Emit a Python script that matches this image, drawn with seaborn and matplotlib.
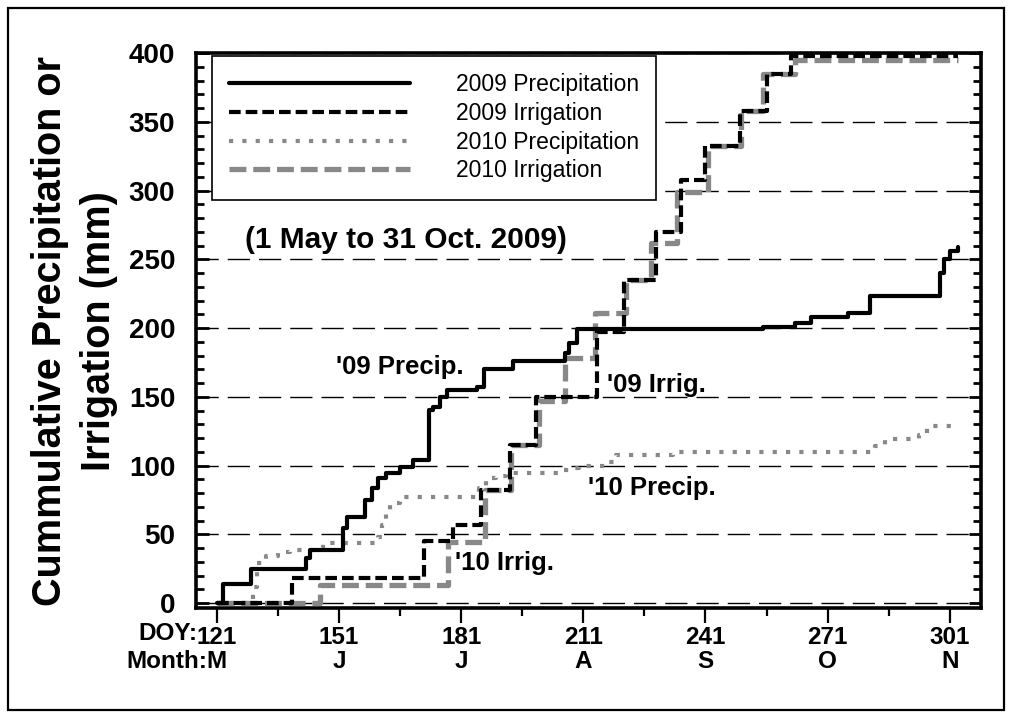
import numpy as np
import pandas as pd
import matplotlib
matplotlib.use("Agg")
import matplotlib.pyplot as plt
import matplotlib.transforms as mtransforms
from matplotlib.patches import Rectangle
from matplotlib.ticker import MultipleLocator, FixedLocator
import seaborn as sns

# ---------------- data ----------------
precip09_doy = [121, 122.5, 129.5, 143, 144, 152, 153, 157.5, 159, 160.5, 162.5, 166, 169.3, 173,
                174.2, 175.8, 177.5, 184.8, 186.5, 193.8, 206.5, 207.5, 209.5, 255, 263, 267, 276,
                281.5, 298.5, 299.5, 301, 303]
precip09_mm = [0, 14, 25, 33, 39, 55, 63, 75, 84, 91, 94.5, 99.3, 104, 140.5,
               143, 150, 155, 157.5, 170, 176, 182, 189, 199, 201, 203.6, 208.4, 211.3,
               223, 240, 250, 256, 259]

irrig09_doy = [121, 139.5, 172, 179, 186, 193, 199.5, 214.3, 221, 228.8, 235, 241, 249.5, 256.2, 262, 303]
irrig09_mm = [0, 18, 45, 57, 82.3, 115, 150, 197, 235, 270, 308, 332.5, 357.5, 385, 398, 398]

precip10_doy = [121, 130, 131, 133, 136, 139, 145, 147, 160.5, 161.5, 162.5, 163.5, 166, 185.5, 187,
                189.5, 192, 206, 208, 210, 216.5, 219, 233, 282.5, 285, 293.5, 295.5, 302]
precip10_mm = [0, 12, 29, 34, 37, 39, 40, 44, 48, 57, 65, 73, 77.5, 83.5, 90.8,
               92.5, 95, 96.5, 98, 100, 103, 107.8, 110, 114.3, 119.2, 122.3, 129, 129]

irrig10_doy = [121, 146.4, 177.8, 186.8, 193.3, 200, 206.5, 213.8, 221.5, 227.5, 234, 241.5, 249.8, 255, 263, 303]
irrig10_mm = [0, 13.2, 44.7, 82.3, 115, 147, 178, 211, 235, 262, 299, 332.5, 357.5, 385, 395, 395]

series_names = ["2009 Precipitation", "2009 Irrigation", "2010 Precipitation", "2010 Irrigation"]

doy_ticks = [121, 151, 181, 211, 241, 271, 301]
month_labels = ["M", "J", "J", "A", "S", "O", "N"]
y_ticks = [0, 50, 100, 150, 200, 250, 300, 350, 400]

# ---------------- style ----------------
sns.set_theme(style="white")
plt.rcParams["font.family"] = ["Liberation Sans", "DejaVu Sans"]
plt.rcParams["font.weight"] = "bold"
plt.rcParams["text.color"] = "black"
plt.rcParams["axes.labelcolor"] = "black"
plt.rcParams["xtick.color"] = "black"
plt.rcParams["ytick.color"] = "black"

fig = plt.figure(figsize=(10.11, 7.15), dpi=100)
ax = fig.add_axes([196 / 1011, (715 - 608.3) / 715, 785 / 1011, 555.3 / 715])

gray = "#888888"
styles = {
    "2009 Precipitation": dict(color="black", lw=3.0, ls="-", z=5),
    "2009 Irrigation": dict(color="black", lw=3.0, ls=(0, (2.8, 1.2)), z=4),
    "2010 Precipitation": dict(color=gray, lw=3.0, ls=(0, (1.0, 2.2)), z=2),
    "2010 Irrigation": dict(color=gray, lw=3.8, ls=(0, (3.2, 1.3)), z=3),
}
data_pairs = {
    "2009 Precipitation": (precip09_doy, precip09_mm),
    "2009 Irrigation": (irrig09_doy, irrig09_mm),
    "2010 Precipitation": (precip10_doy, precip10_mm),
    "2010 Irrigation": (irrig10_doy, irrig10_mm),
}

for name in series_names:
    d, v = data_pairs[name]
    df = pd.DataFrame({"DOY": d, "mm": v})
    st = styles[name]
    sns.lineplot(data=df, x="DOY", y="mm", ax=ax, estimator=None, sort=False,
                 color=st["color"], linewidth=st["lw"], linestyle=st["ls"],
                 drawstyle="steps-post", label=name, zorder=st["z"], legend=False)

ax.set_xlim(115.9, 308.65)
ax.set_ylim(-3.7, 400)

# grid / ticks
ax.yaxis.set_major_locator(MultipleLocator(50))
ax.yaxis.set_minor_locator(MultipleLocator(10))
ax.xaxis.set_major_locator(FixedLocator(doy_ticks))
ax.xaxis.set_minor_locator(FixedLocator([136, 166, 196, 226, 256, 286]))
ax.grid(False)
ax.yaxis.grid(True, which="major", color="black", linewidth=1.0, linestyle=(0, (16, 6.5)), zorder=0)
ax.set_axisbelow(True)

for sp in ax.spines.values():
    sp.set_linewidth(2.6)
    sp.set_color("black")
    sp.set_visible(True)

ax.tick_params(axis="y", which="both", direction="in", left=True, right=True,
               width=2.0, colors="black", labelsize=20, pad=15)
ax.tick_params(axis="y", which="major", length=9)
ax.tick_params(axis="y", which="minor", length=6)
ax.tick_params(axis="x", which="both", direction="out", bottom=True, top=False,
               width=1.6, colors="black")
ax.tick_params(axis="x", which="major", length=11, pad=2)
ax.tick_params(axis="x", which="minor", length=6)

ax.set_yticks(y_ticks)
ax.set_yticklabels([str(v) for v in y_ticks], fontsize=20, fontweight="bold", color="black")
ax.set_xticks(doy_ticks)
ax.set_xticklabels([str(d) for d in doy_ticks], fontsize=17.5, fontweight="bold", color="black")

trans = mtransforms.blended_transform_factory(ax.transData, ax.transAxes)
for d, m in zip(doy_ticks, month_labels):
    ax.text(d, -0.095, m, transform=trans, ha="center", va="center", fontsize=17.5,
            fontweight="bold", color="black")
fig.text(197 / 1011, (715 - 633) / 715, "DOY:", ha="right", va="center", fontsize=17.5,
         fontweight="bold", color="black")
fig.text(207 / 1011, (715 - 661) / 715, "Month:", ha="right", va="center", fontsize=17.5,
         fontweight="bold", color="black")

ax.set_xlabel("")
ax.set_ylabel("Cummulative Precipitation or\nIrrigation (mm)", fontsize=28.5,
              fontweight="bold", linespacing=1.36, color="black")
ax.yaxis.set_label_coords(-0.1, 0.5)

# annotations
ax.text(167.5, 264, "(1 May to 31 Oct. 2009)", ha="center", va="center", fontsize=21.5,
        fontweight="bold", color="black")
ax.text(150.3, 171.8, "'09 Precip.", ha="left", va="center", fontsize=18.5, fontweight="bold", color="black")
ax.text(216.8, 158.7, "'09 Irrig.", ha="left", va="center", fontsize=18.5, fontweight="bold", color="black")
ax.text(212.2, 83.8, "'10 Precip.", ha="left", va="center", fontsize=18.5, fontweight="bold", color="black")
ax.text(179.5, 29.2, "'10 Irrig.", ha="left", va="center", fontsize=18.5, fontweight="bold", color="black")

leg = ax.legend(loc="upper left", bbox_to_anchor=(16 / 785, (555.3 - 3) / 555.3),
                frameon=True, fancybox=False, edgecolor="black", framealpha=1,
                prop={"size": 16.5, "weight": "normal"}, handlelength=7.9,
                handletextpad=2.0, borderpad=0.75, labelspacing=0.25, borderaxespad=0)
leg.get_frame().set_linewidth(1.2)
for t in leg.get_texts():
    t.set_color("black")

# outer frame
fig.patches.append(Rectangle((8 / 1011, 5 / 715), 996 / 1011, 702 / 715, transform=fig.transFigure,
                             fill=False, edgecolor="black", linewidth=1.6))

fig.savefig("out.png", dpi=100)
